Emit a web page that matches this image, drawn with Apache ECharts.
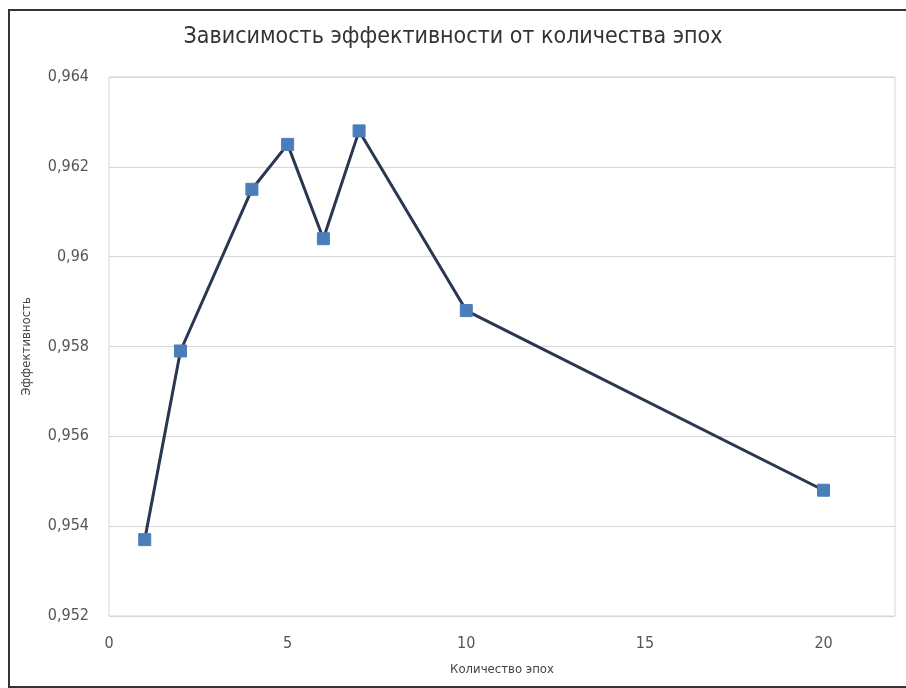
<!DOCTYPE html>
<html>
<head>
<meta charset="utf-8">
<script src="https://cdn.jsdelivr.net/npm/echarts@6/dist/echarts.min.js"></script>
<style>
  html, body { margin: 0; padding: 0; background: #fff; }
  #wrap { position: absolute; left: 0; top: 0; width: 906px; height: 688px; }
  #frame { position: absolute; left: 8px; top: 9px; width: 910px; height: 675px; border: 2px solid #333; }
  #chart { position: absolute; left: 0; top: 0; width: 906px; height: 688px; }
</style>
</head>
<body>
<div id="wrap">
  <div id="frame"></div>
  <div id="chart"></div>
</div>
<script>
var epochs = [1, 2, 4, 5, 6, 7, 10, 20];
var efficiency = [0.9537, 0.9579, 0.9615, 0.9625, 0.9604, 0.9628, 0.9588, 0.9548];

var titleText = 'Зависимость эффективности от количества эпох';
var xName = 'Количество эпох';
var yName = 'Эффективность';

var fontFam = "'Liberation Sans Narrow', 'DejaVu Sans Condensed', 'Open Sans', sans-serif";

var chart = echarts.init(document.getElementById('chart'));

var option = {
    backgroundColor: 'transparent',
    title: {
        text: titleText,
        left: 'center',
        top: 21,
        textStyle: { fontFamily: fontFam, fontSize: 23, fontWeight: 'normal', color: '#333' }
    },
    grid: {
        left: 109, right: 11, top: 77, bottom: 72,
        show: true, borderColor: '#d6d6d6', borderWidth: 1
    },
    xAxis: {
        type: 'value',
        min: 0, max: 22, interval: 5,
        name: xName,
        nameLocation: 'middle',
        nameGap: 47,
        nameTextStyle: { fontFamily: fontFam, fontSize: 13, color: '#444' },
        axisLine: { show: false },
        axisTick: { show: false },
        splitLine: { show: false },
        axisLabel: { fontFamily: fontFam, fontSize: 16, color: '#555', margin: 20, showMaxLabel: false }
    },
    yAxis: {
        type: 'value',
        min: 0.952, max: 0.964, interval: 0.002,
        name: yName,
        nameLocation: 'middle',
        nameGap: 76,
        nameTextStyle: { fontFamily: fontFam, fontSize: 13, color: '#444' },
        axisLine: { show: false },
        axisTick: { show: false },
        splitLine: { lineStyle: { color: '#d6d6d6', width: 1 } },
        axisLabel: {
            fontFamily: fontFam, fontSize: 16, color: '#555', margin: 20,
            formatter: function (v) { return String(parseFloat(v.toFixed(3))).replace('.', ','); }
        }
    },
    series: [
        {
            type: 'line',
            data: epochs.map(function (e, i) { return [e, efficiency[i]]; }),
            symbol: 'rect',
            symbolSize: 12,
            lineStyle: { color: '#2a3750', width: 3 },
            itemStyle: { color: '#4a7ebb', borderColor: '#4a7ebb' },
            animation: false
        }
    ]
};

chart.setOption(option);
</script>
</body>
</html>
